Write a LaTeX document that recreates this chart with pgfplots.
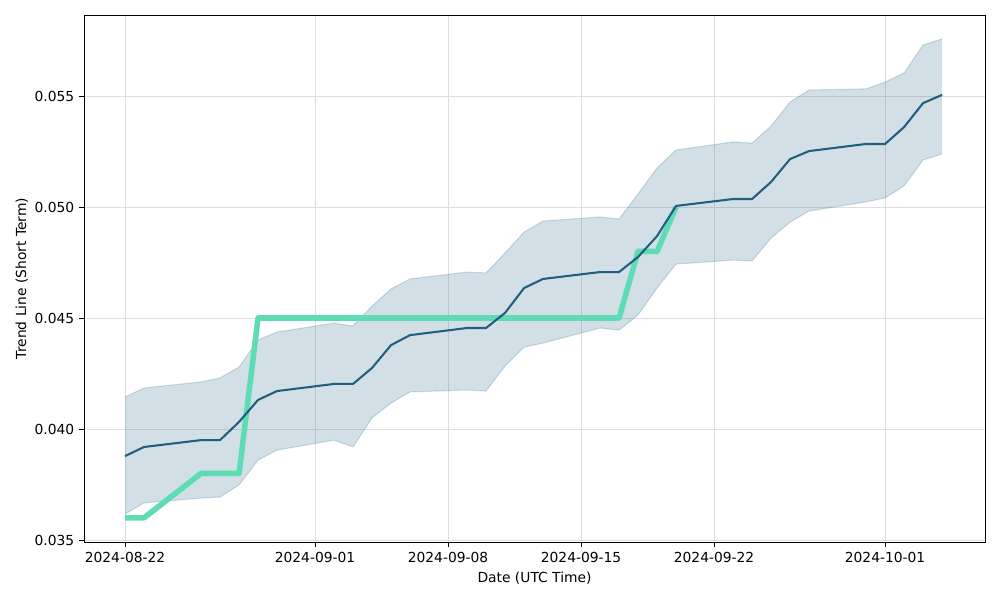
\documentclass[border=0pt]{standalone}
\usepackage{fontspec}
\setmainfont{DejaVu Sans}
\usepackage{pgfplots}
\pgfplotsset{compat=1.18}
\usepgfplotslibrary{fillbetween}
\definecolor{meanc}{RGB}{31,95,128}
\definecolor{greenc}{RGB}{95,219,181}
\definecolor{gridc}{RGB}{222,222,222}
\begin{document}
\begin{tikzpicture}
\begin{axis}[
  scale only axis,
  width=9.01in, height=5.27in,
  xmin=-2.16, xmax=45.26,
  ymin=0.03491, ymax=0.05865,
  xtick={0,10,17,24,31,40},
  xticklabels={2024-08-22,2024-09-01,2024-09-08,2024-09-15,2024-09-22,2024-10-01},
  ytick={0.035,0.040,0.045,0.050,0.055},
  yticklabel style={/pgf/number format/.cd,fixed,fixed zerofill,precision=3,assume math mode=true},
  scaled y ticks=false,
  tick align=outside,
  major tick length=3.5pt,
  xtick pos=bottom, ytick pos=left,
  tick style={black, line width=0.6pt},
  grid=major,
  major grid style={gridc, line width=0.6pt},
  axis line style={black, line width=0.6pt},
  ticklabel style={font=\fontsize{10}{12}\selectfont},
  label style={font=\fontsize{10}{12}\selectfont},
  xlabel={Date (UTC Time)},
  ylabel={Trend Line (Short Term)},
  xlabel style={yshift=0pt},
  ylabel style={yshift=-2pt},
]
\addplot[name path=upper, draw=meanc, draw opacity=0.2, line width=0.8pt, forget plot] coordinates {
(0,0.04144)(1,0.04185)(4,0.04212)(5,0.04230)(6,0.04279)(7,0.04401)(8,0.04437)(11,0.04477)(12,0.04464)(13,0.04554)(14,0.04631)(15,0.04676)(18,0.04707)(19,0.04703)(20,0.04793)(21,0.04887)(22,0.04937)(25,0.04955)(26,0.04946)(27,0.05059)(28,0.05176)(29,0.05257)(32,0.05293)(33,0.05288)(34,0.05365)(35,0.05473)(36,0.05527)(39,0.05532)(40,0.05563)(41,0.05604)(42,0.05730)(43,0.05757)
};
\addplot[name path=lower, draw=meanc, draw opacity=0.2, line width=0.8pt, forget plot] coordinates {
(0,0.03617)(1,0.03667)(4,0.03689)(5,0.03694)(6,0.03748)(7,0.03860)(8,0.03905)(11,0.03950)(12,0.03919)(13,0.04050)(14,0.04117)(15,0.04167)(18,0.04176)(19,0.04171)(20,0.04284)(21,0.04369)(22,0.04387)(25,0.04455)(26,0.04446)(27,0.04514)(28,0.04635)(29,0.04743)(32,0.04761)(33,0.04757)(34,0.04860)(35,0.04932)(36,0.04982)(39,0.05023)(40,0.05041)(41,0.05095)(42,0.05212)(43,0.05239)
};
\addplot[fill=meanc, fill opacity=0.2, draw=none, forget plot] fill between[of=upper and lower];
\addplot[greenc, line width=4pt, line join=round] coordinates {
(0,0.036)(1,0.036)(4,0.038)(5,0.038)(6,0.038)(7,0.045)(8,0.045)(11,0.045)(12,0.045)(13,0.045)(14,0.045)(15,0.045)(18,0.045)(19,0.045)(20,0.045)(21,0.045)(22,0.045)(25,0.045)(26,0.045)(27,0.048)(28,0.048)(29,0.050)
};
\addplot[meanc, line width=1.5pt] coordinates {
(0,0.03878)(1,0.03919)(4,0.03950)(5,0.03950)(6,0.04032)(7,0.04131)(8,0.04171)(11,0.04203)(12,0.04203)(13,0.04275)(14,0.04378)(15,0.04423)(18,0.04455)(19,0.04455)(20,0.04523)(21,0.04635)(22,0.04676)(25,0.04707)(26,0.04707)(27,0.04775)(28,0.04869)(29,0.05005)(32,0.05036)(33,0.05036)(34,0.05113)(35,0.05216)(36,0.05252)(39,0.05284)(40,0.05284)(41,0.05360)(42,0.05468)(43,0.05505)
};
\end{axis}
\path ([shift={(-0.84in,-0.58in)}]current axis.south west) rectangle ([shift={(0.15in,0.15in)}]current axis.north east);
\end{tikzpicture}
\end{document}
